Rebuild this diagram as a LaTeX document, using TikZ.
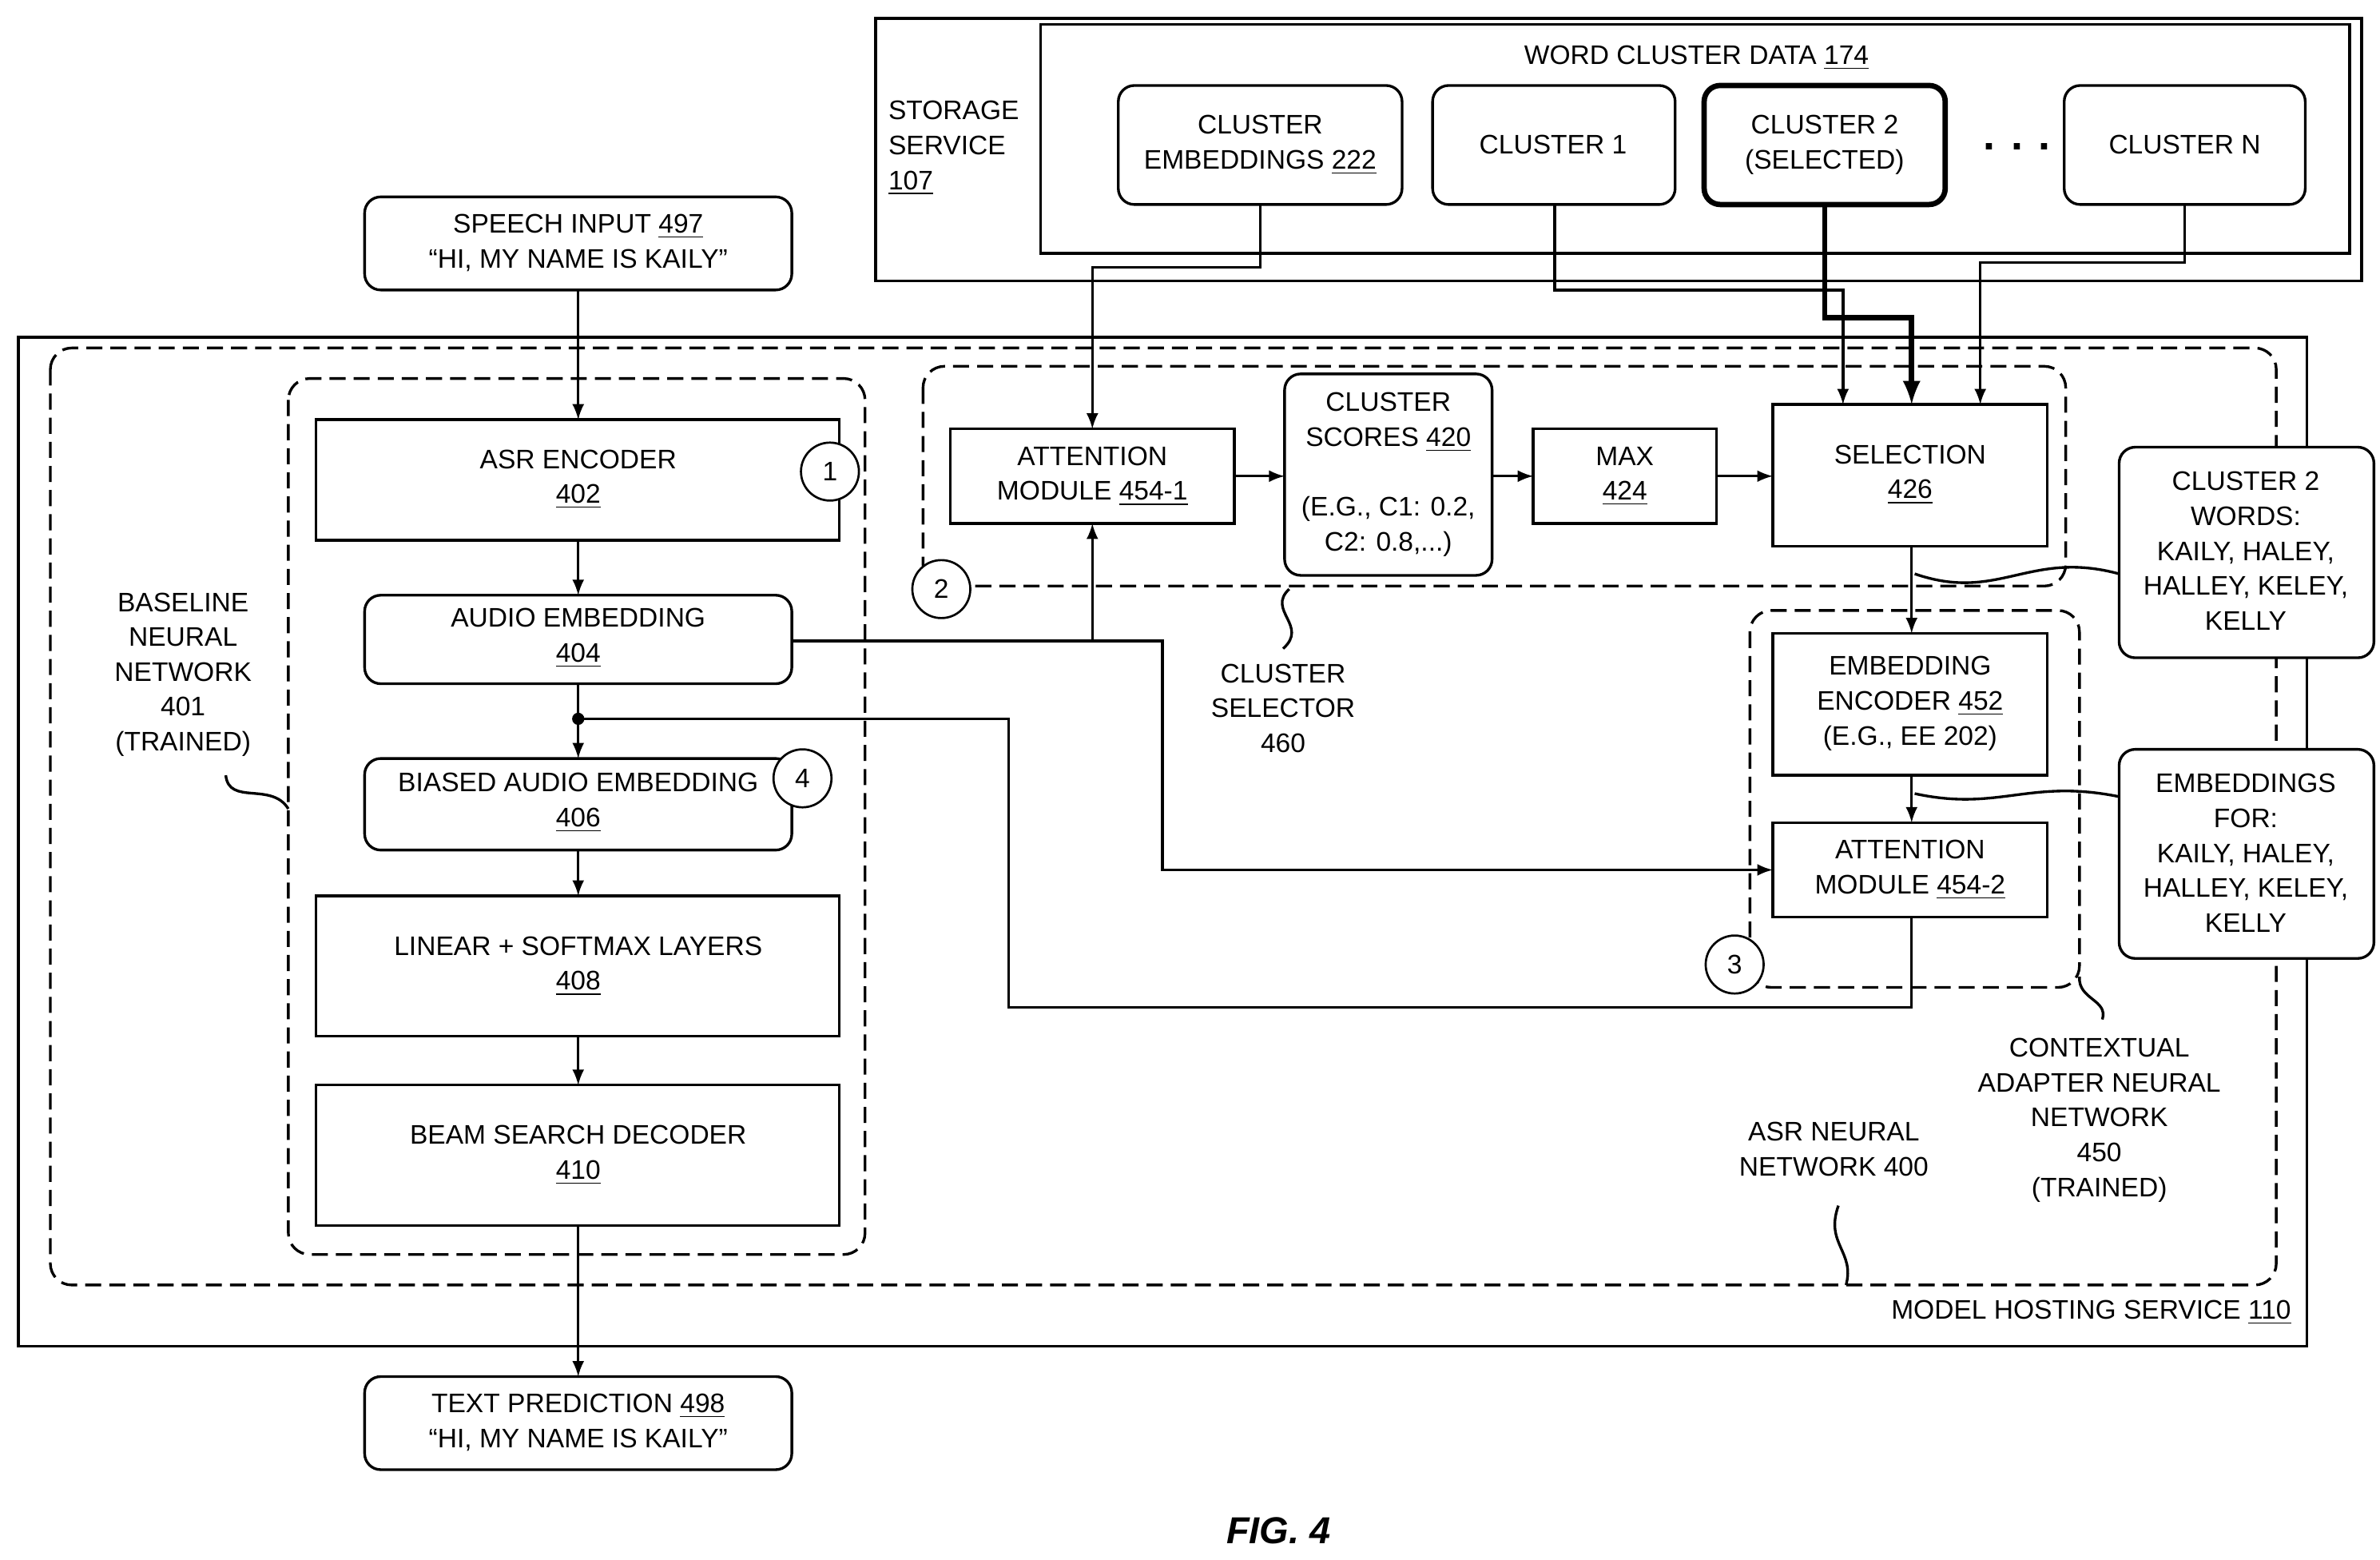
\documentclass[tikz,border=0pt]{standalone}
\usepackage{fontspec}
\setmainfont{Liberation Sans}
\usetikzlibrary{arrows}

\tikzset{
  txt/.style={font=\fontsize{10}{13}\selectfont, align=center, inner sep=0pt},
  dashbox/.style={dashed, dash pattern=on 6pt off 3pt, line width=1pt, rounded corners=8pt},
  num/.style={txt, draw, circle, line width=0.8pt, minimum size=0.76cm, fill=white},
  wire/.style={line width=1pt},
}

\begin{document}
\begin{tikzpicture}[x=0.02cm, y=-0.02cm, >=latex]
\useasboundingbox (0,0) rectangle (1560,1022);

% Storage service
\draw[wire] (574,12) rectangle (1548,184);
\draw[wire] (682,16) rectangle (1540,166);
\node[txt] (wcd) at (1112,38) {WORD CLUSTER DATA \underline{174}};
\node[txt, align=left, anchor=west] (stor) at (582,97) {STORAGE\\SERVICE\\\underline{107}};
\draw[wire, rounded corners=6pt] (733,56) rectangle (919,134);
\node[txt] (cemb) at (826,95) {CLUSTER\\EMBEDDINGS \underline{222}};
\draw[wire, rounded corners=6pt] (939,56) rectangle (1098,134);
\node[txt] (c1) at (1018,95) {CLUSTER 1};
\draw[line width=2pt, rounded corners=6pt] (1117,56) rectangle (1275,134);
\node[txt] (c2) at (1196,95) {CLUSTER 2\\(SELECTED)};
\node[txt, font=\fontsize{16}{16}\selectfont\bfseries] (dots) at (1322,96) {. . .};
\draw[wire, rounded corners=6pt] (1353,56) rectangle (1511,134);
\node[txt] (cn) at (1432,95) {CLUSTER N};

% Model hosting service
\draw[wire] (12,221) rectangle (1512,882);
\node[txt, anchor=east] (mhs) at (1502,860) {MODEL HOSTING SERVICE \underline{110}};
\draw[dashbox] (33,228) rectangle (1492,842);
\draw[dashbox] (189,248) rectangle (567,822);
\draw[dashbox] (605,240) rectangle (1354,384);
\draw[dashbox] (1147,400) rectangle (1363,647);

% Speech in / text out
\draw[wire, rounded corners=6pt] (239,129) rectangle (519,190);
\node[txt] (sin) at (379,159) {SPEECH INPUT \underline{497}\\``HI, MY NAME IS KAILY''};
\draw[wire, rounded corners=6pt] (239,902) rectangle (519,963);
\node[txt] (tout) at (379,932) {TEXT PREDICTION \underline{498}\\``HI, MY NAME IS KAILY''};

% Baseline network
\draw[wire] (207,275) rectangle (550,354);
\node[txt] (enc) at (379,314) {ASR ENCODER\\\underline{402}};
\draw[wire, rounded corners=6pt] (239,390) rectangle (519,448);
\node[txt] (aemb) at (379,418) {AUDIO EMBEDDING\\\underline{404}};
\draw[wire, rounded corners=6pt] (239,497) rectangle (519,557);
\node[txt] (bemb) at (379,526) {BIASED AUDIO EMBEDDING\\\underline{406}};
\draw[wire] (207,587) rectangle (550,679);
\node[txt] (lin) at (379,633) {LINEAR + SOFTMAX LAYERS\\\underline{408}};
\draw[wire] (207,711) rectangle (550,803);
\node[txt] (beam) at (379,757) {BEAM SEARCH DECODER\\\underline{410}};

% Cluster selector
\draw[wire] (623,281) rectangle (809,343);
\node[txt] (att1) at (716,312) {ATTENTION\\MODULE \underline{454-1}};
\draw[wire, rounded corners=6pt] (842,245) rectangle (978,377);
\node[txt] (score) at (910,311) {CLUSTER\\SCORES \underline{420}\\[13pt](E.G., C1: 0.2,\\C2: 0.8,...)};
\draw[wire] (1005,281) rectangle (1125,343);
\node[txt] (max) at (1065,312) {MAX\\\underline{424}};
\draw[wire] (1162,265) rectangle (1342,358);
\node[txt] (sel) at (1252,311) {SELECTION\\\underline{426}};

% Contextual adapter
\draw[wire] (1162,415) rectangle (1342,508);
\node[txt] (eenc) at (1252,461) {EMBEDDING\\ENCODER \underline{452}\\(E.G., EE 202)};
\draw[wire] (1162,539) rectangle (1342,601);
\node[txt] (att2) at (1252,570) {ATTENTION\\MODULE \underline{454-2}};

% Callouts
\draw[wire, fill=white, rounded corners=6pt] (1389,293) rectangle (1556,431);
\node[txt] (w2) at (1472,361) {CLUSTER 2\\WORDS:\\KAILY, HALEY,\\HALLEY, KELEY,\\KELLY};
\draw[wire, fill=white, rounded corners=6pt] (1389,491) rectangle (1556,628);
\node[txt] (efor) at (1472,559) {EMBEDDINGS\\FOR:\\KAILY, HALEY,\\HALLEY, KELEY,\\KELLY};

% Labels
\node[txt] (bl) at (120,442) {BASELINE\\NEURAL\\NETWORK\\401\\(TRAINED)};
\node[txt] (csl) at (841,464) {CLUSTER\\SELECTOR\\460};
\node[txt] (cal) at (1376,734) {CONTEXTUAL\\ADAPTER NEURAL\\NETWORK\\450\\(TRAINED)};
\node[txt] (asl) at (1202,753) {ASR NEURAL\\NETWORK 400};
\node[txt, font=\fontsize{14}{14}\selectfont\bfseries\itshape] (fig) at (838,1003) {FIG. 4};

% Numbered markers
\node[num] (n1) at (544,309) {1};
\node[num] (n2) at (617,386) {2};
\node[num] (n3) at (1137,632) {3};
\node[num] (n4) at (526,510) {4};

% Squiggles
\draw[wire] (148,508) .. controls (150,528) and (178,512) .. (189,530);
\draw[wire] (845,386) .. controls (830,400) and (858,410) .. (841,425);
\draw[wire] (1363,640) .. controls (1362,655) and (1382,655) .. (1378,668);
\draw[wire] (1205,790) .. controls (1196,815) and (1216,820) .. (1210,842);
\draw[wire] (1255,376) .. controls (1310,395) and (1330,360) .. (1389,376);
\draw[wire] (1255,520) .. controls (1310,532) and (1330,510) .. (1389,522);

% Connectors
\draw[wire, ->] (379,190) -- (379,275);
\draw[wire, ->] (379,354) -- (379,390);
\draw[wire, ->] (379,448) -- (379,497);
\draw[wire, ->] (379,557) -- (379,587);
\draw[wire, ->] (379,679) -- (379,711);
\draw[wire, ->] (379,803) -- (379,902);
\fill (379,471) circle (4);
\draw[wire, ->] (519,420) -- (716,420) -- (716,343);
\draw[wire, ->] (716,420) -- (762,420) -- (762,570) -- (1162,570);
\draw[wire] (379,471) -- (661,471) -- (661,660) -- (1253,660) -- (1253,601);
\draw[wire, ->] (826,134) -- (826,175) -- (716,175) -- (716,281);
\draw[wire, ->] (809,312) -- (842,312);
\draw[wire, ->] (978,312) -- (1005,312);
\draw[wire, ->] (1125,312) -- (1162,312);
\draw[wire, ->] (1019,134) -- (1019,190) -- (1208,190) -- (1208,265);
\draw[line width=2pt, ->] (1196,134) -- (1196,208) -- (1253,208) -- (1253,265);
\draw[wire, ->] (1432,134) -- (1432,172) -- (1298,172) -- (1298,265);
\draw[wire, ->] (1253,358) -- (1253,415);
\draw[wire, ->] (1253,508) -- (1253,539);
\end{tikzpicture}
\end{document}
